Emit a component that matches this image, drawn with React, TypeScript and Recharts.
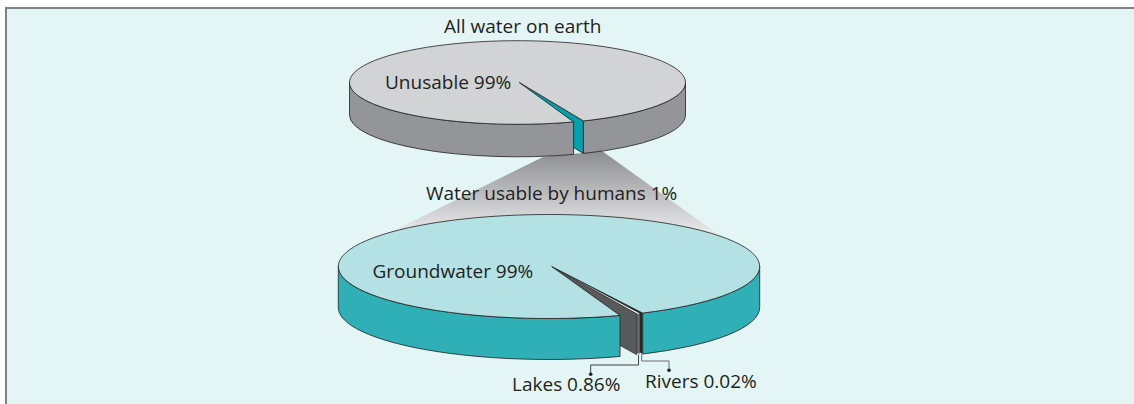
import React from 'react';
import { PieChart, Pie } from 'recharts';

// "All water on earth" pie
const earthNames = ['Water usable by humans', 'Unusable'];
const earthValues = [1, 99];

// Usable water pie. The small slices are drawn wider than their printed
// percentages, so these are the shares.
const usableNames = ['Rivers', 'Lakes', 'Groundwater'];
const usableValues = [0.5, 1.36, 98.14];

const titleLabels = ['All water on earth', 'Water usable by humans 1%'];
const sliceLabels = ['Unusable 99%', 'Groundwater 99%', 'Lakes 0.86%', 'Rivers 0.02%'];

const earthData = earthNames.map((name, i) => ({ name, value: earthValues[i] }));
const usableData = usableNames.map((name, i) => ({ name, value: usableValues[i] }));

const INK = '#231f20';
const FONT = '"Open Sans", sans-serif';

const rad = (deg: number) => (deg * Math.PI) / 180;

// Maps the circular sector props of Recharts onto a flattened disc.
// The cut's tip sits a little right of the disc centre in the drawing (tipDx).
const disc = (cx: number, cy: number, rx: number, ry: number, tipDx = 0) => {
  const tip = cx + tipDx;
  const pt = (a: number, dy = 0): [number, number] => [
    cx + rx * Math.cos(rad(a)),
    cy - ry * Math.sin(rad(a)) + dy,
  ];
  const top = (lo: number, hi: number) => {
    const [x1, y1] = pt(lo);
    const [x2, y2] = pt(hi);
    return `M${tip},${cy}L${x1},${y1}A${rx},${ry} 0 ${hi - lo > 180 ? 1 : 0} 0 ${x2},${y2}Z`;
  };
  const band = (lo: number, hi: number, depth: number) => {
    const [x1, y1] = pt(lo);
    const [x2, y2] = pt(hi);
    return `M${x1},${y1}A${rx},${ry} 0 0 0 ${x2},${y2}L${x2},${y2 + depth}A${rx},${ry} 0 0 1 ${x1},${y1 + depth}Z`;
  };
  const wall = (a: number, depth: number) => {
    const [x, y] = pt(a);
    return `${tip},${cy} ${x},${y} ${x},${y + depth} ${tip},${cy + depth}`;
  };
  return { top, band, wall };
};

// only the front half of the rim can be seen
const frontArcs = (lo: number, hi: number) => {
  const arcs: [number, number][] = [];
  for (let k = -2; k <= 1; k++) {
    const a = Math.max(lo, -180 + 360 * k);
    const b = Math.min(hi, 360 * k);
    if (b > a) arcs.push([a, b]);
  }
  return arcs;
};

const makeBigSlice = (ratio: number, depth: number, tipDx: number, topFill: string, sideFill: string) => (props: any) => {
  const { cx, cy, outerRadius, startAngle, endAngle } = props;
  const lo = Math.min(startAngle, endAngle);
  const hi = Math.max(startAngle, endAngle);
  const d = disc(cx, cy, outerRadius, outerRadius * ratio, tipDx);
  return (
    <g>
      {frontArcs(lo, hi).map(([a, b]) => (
        <path key={a} d={d.band(a, b, depth)} fill={sideFill} stroke={INK} strokeWidth={0.8} />
      ))}
      <path d={d.top(lo, hi)} fill={topFill} stroke={INK} strokeWidth={0.8} />
    </g>
  );
};

const EARTH_RATIO = 41.8 / 168;
const EARTH_DEPTH = 32.5;
const EARTH_TIP = 1.8;
const USABLE_RATIO = 52 / 210.7;
const USABLE_DEPTH = 41;
const USABLE_TIP = 2.7;

const bigEarth = makeBigSlice(EARTH_RATIO, EARTH_DEPTH, EARTH_TIP, '#d1d3d4', '#939598');
const bigUsable = makeBigSlice(USABLE_RATIO, USABLE_DEPTH, USABLE_TIP, '#b4e1e4', '#2fb0b6');

const EarthSlice = (props: any) => {
  if (props.payload.name === 'Unusable') return bigEarth(props);
  const { cx, cy, outerRadius, startAngle, endAngle } = props;
  const d = disc(cx, cy, outerRadius, outerRadius * EARTH_RATIO, EARTH_TIP);
  return (
    <polygon
      points={d.wall(Math.max(startAngle, endAngle), EARTH_DEPTH)}
      fill="#00a0ac"
      stroke={INK}
      strokeWidth={0.8}
    />
  );
};

const UsableSlice = (props: any) => {
  if (props.payload.name === 'Groundwater') return bigUsable(props);
  const { cx, cy, outerRadius, startAngle, endAngle } = props;
  const lo = Math.min(startAngle, endAngle);
  const hi = Math.max(startAngle, endAngle);
  const d = disc(cx, cy, outerRadius, outerRadius * USABLE_RATIO, USABLE_TIP);
  if (props.payload.name === 'Lakes') {
    return <polygon points={d.wall(hi, USABLE_DEPTH)} fill="#58595b" stroke={INK} strokeWidth={0.6} />;
  }
  const mid = (lo + hi) / 2;
  return (
    <g>
      <polygon points={d.wall(hi, USABLE_DEPTH)} fill="#2b2829" />
      <polygon points={d.wall(mid, USABLE_DEPTH)} fill="#6d6e71" />
      <path d={d.top(mid, hi)} fill="#2b2829" />
      <path d={d.top(lo, mid)} fill="#e4f5f5" />
    </g>
  );
};

const labelStyle = { fontFamily: FONT, fontSize: 19, fill: INK };

export default function App() {
  return (
    <div
      style={{
        position: 'fixed',
        left: 0,
        top: 0,
        width: 1134,
        height: 404,
        background: '#fff',
      }}
    >
      <div
        style={{
          position: 'absolute',
          left: 5,
          top: 7,
          right: 0,
          bottom: 0,
          background: '#e4f5f5',
          borderTop: '2px solid #808285',
          borderLeft: '2px solid #808285',
        }}
      />
      <div style={{ position: 'absolute', left: 0, top: 0 }}>
        <PieChart width={1134} height={404} margin={{ top: 0, right: 0, bottom: 0, left: 0 }}>
          <defs>
            <linearGradient id="funnel" x1="0" y1="151" x2="0" y2="237" gradientUnits="userSpaceOnUse">
              <stop offset="0" stopColor="#8c8d90" />
              <stop offset="1" stopColor="#eeeeef" />
            </linearGradient>
          </defs>
          <polygon points="543,157 602,151 722,237 549,270 381,237" fill="url(#funnel)" />
          <Pie
            data={usableData}
            dataKey="value"
            cx={549}
            cy={266.5}
            outerRadius={210.7}
            startAngle={-63.6}
            endAngle={-423.6}
            stroke="none"
            shape={UsableSlice}
            isAnimationActive={false}
          />
          <Pie
            data={earthData}
            dataKey="value"
            cx={517.5}
            cy={82.5}
            outerRadius={168}
            startAngle={-66.9}
            endAngle={-426.9}
            stroke="none"
            shape={EarthSlice}
            isAnimationActive={false}
          />
        </PieChart>
      </div>
      <svg width={1134} height={404} style={{ position: 'absolute', left: 0, top: 0 }}>
        <polyline points="638.5,355 638.5,365 590.7,365 590.7,374" fill="none" stroke="#414042" strokeWidth={1} />
        <circle cx={590.7} cy={374.3} r={1.8} fill={INK} />
        <polyline points="641.7,354 641.7,361 669,361 669,370" fill="none" stroke="#6d6e71" strokeWidth={1} />
        <circle cx={669} cy={370.3} r={1.8} fill={INK} />
        <text x={444} y={33} {...labelStyle}>{titleLabels[0]}</text>
        <text x={426} y={200} {...labelStyle}>{titleLabels[1]}</text>
        <text x={385} y={89} {...labelStyle}>{sliceLabels[0]}</text>
        <text x={372.5} y={278} {...labelStyle}>{sliceLabels[1]}</text>
        <text x={512} y={391} {...labelStyle}>{sliceLabels[2]}</text>
        <text x={645} y={388} {...labelStyle}>{sliceLabels[3]}</text>
      </svg>
    </div>
  );
}
